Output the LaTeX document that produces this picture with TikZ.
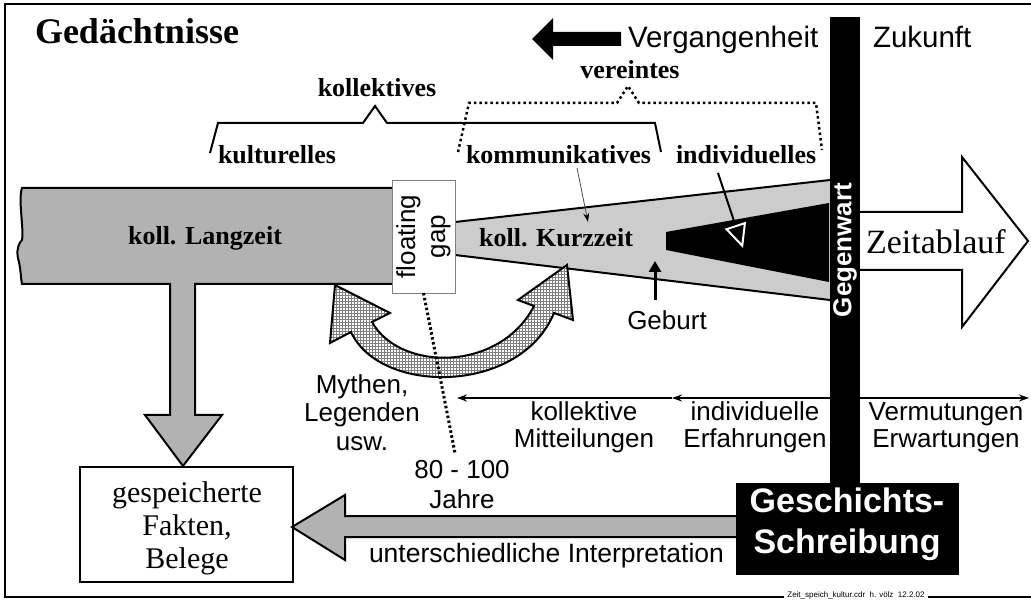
\documentclass[tikz,border=0pt]{standalone}
\usepackage{fontspec}
\setmainfont{Liberation Serif}
\setsansfont{Liberation Sans}
\usetikzlibrary{patterns,arrows.meta}
\definecolor{darkfill}{gray}{0.70}
\definecolor{lightfill}{gray}{0.80}

\begin{document}
\begin{tikzpicture}[x=1pt,y=-1pt,
  every node/.style={inner sep=0pt,outer sep=0pt},
  bserif/.style={font=\fontsize{26}{30}\selectfont\bfseries},
  rserif/.style={font=\fontsize{30}{33}\selectfont,align=center},
  sanslbl/.style={font=\sffamily\fontsize{26}{28}\selectfont,align=center},
  dots/.style={line width=2.5pt,dash pattern=on 2.5pt off 3pt},
]
\useasboundingbox (0,0) rectangle (1031,601);
\fill[white] (0,0) rectangle (1031,601);

% frame
\draw[line width=2pt] (1033,4) -- (5,4) -- (5,597) -- (1033,597);

% title
\node[anchor=base west,font=\fontsize{36}{40}\selectfont\bfseries] (title) at (35,44) {Gedächtnisse};

% direction of the past
\fill (532,39) -- (553,18) -- (553,32) -- (621,32) -- (621,46) -- (553,46) -- (553,60) -- cycle;
\node[anchor=base west,font=\sffamily\fontsize{29.5}{32}\selectfont] (verg) at (628,48) {Vergangenheit};
\node[anchor=base west,font=\sffamily\fontsize{29.5}{32}\selectfont] (zukunft) at (873,48) {Zukunft};

% brackets
\draw[line width=2pt] (210,153) -- (218,123) -- (363,123) -- (375,106) -- (387,123) -- (655,123) -- (661,152);
\draw[dots] (458,152) -- (469,103) -- (617,103) -- (628,86) -- (639,103) -- (816,103) -- (822,150);
\node[bserif,anchor=base] (kollektives) at (377,97) {kollektives};
\node[bserif,anchor=base] (vereintes) at (630,79) {vereintes};
\node[bserif,anchor=base west] (kulturelles) at (218,164) {kulturelles};
\node[bserif,anchor=base west] (kommunikatives) at (466,164) {kommunikatives};
\node[bserif,anchor=base west] (individuelles) at (676,164) {individuelles};

% long-term collective memory with its outlet downwards
\filldraw[fill=darkfill,line width=2pt,line join=miter] (392,188) -- (22,188)
  .. controls (18,200) and (24,228) .. (22,240)
  .. controls (16,246) and (17,256) .. (19,262)
  .. controls (21,272) and (21,280) .. (22,284)
  -- (170,284) -- (170,415) -- (145,415) -- (183,466) -- (222,415) -- (195,415) -- (195,284) -- (392,284);
\node[bserif,anchor=base] (langzeit) at (205,245) {koll. Langzeit};

% short-term collective memory and the individual wedge
\fill[lightfill] (455,222) -- (830,180) -- (830,300) -- (455,255) -- cycle;
\draw[line width=2pt] (455,222) -- (830,180);
\draw[line width=2pt] (455,255) -- (830,300);
\fill (666,232) -- (829,203) -- (829,282) -- (666,250) -- cycle;
\node[bserif,anchor=base] (kurzzeit) at (556,247) {koll. Kurzzeit};

% myths travelling both ways
\draw[line width=2pt,line join=miter,preaction={fill=white},preaction={pattern=grid,pattern color=gray}]
  (335,285) -- (390,313) -- (372,322)
  .. controls (400,372) and (500,372) .. (534,306)
  -- (518,300) -- (567,265) -- (573,320) -- (554,313)
  .. controls (520,395) and (380,395) .. (351,332)
  -- (330,343) -- cycle;

% floating gap
\node[draw=gray,line width=0.8pt,fill=white,minimum width=63pt,minimum height=113pt,anchor=north west] (gapbox) at (392,180) {};
\node[rotate=90,font=\sffamily\fontsize{26}{30}\selectfont,align=center] (gaptext) at (gapbox.center) {floating\\gap};

% time flow
\filldraw[fill=white,line width=2pt,line join=miter] (860,212) -- (962,212) -- (962,157) -- (1028,241) -- (962,327) -- (962,270) -- (860,270);
\node[anchor=base west,font=\fontsize{34}{38}\selectfont] (zeit) at (866,254) {Zeitablauf};

% pointers from the labels
\coordinate (kommtail) at (577,168);
\coordinate (kommhead) at (588,222);
\draw[gray!60!black,line width=0.8pt,-{Stealth[black,length=9pt,width=6pt]}] (kommtail) -- (kommhead);
\coordinate (indtail) at (718,173);
\coordinate (indhead) at (743,248);
\draw[line width=2pt,-{Triangle[open,white,line width=2pt,length=24pt,width=22pt]}] (indtail) -- (indhead);

% birth
\node[anchor=base,font=\sffamily\fontsize{26}{29}\selectfont] (geburt) at (667,330) {Geburt};
\coordinate (gebtail) at (655,300);
\coordinate (gebhead) at (655,261);
\draw[line width=3pt,-{Triangle[length=11pt,width=12pt]}] (gebtail) -- (gebhead);

% time line
\coordinate (now) at (845,398);
\coordinate (split) at (672,398);
\coordinate (past) at (457,398);
\coordinate (future) at (1029,398);
\draw[line width=1.5pt,-{Stealth[length=10pt,width=7pt]}] (now) -- (split);
\draw[line width=1.5pt,-{Stealth[length=10pt,width=7pt]}] (split) -- (past);
\draw[line width=1.5pt,-{Stealth[length=10pt,width=7pt]}] (now) -- (future);

\coordinate (gapfoot) at (455,453);
\draw[line width=3pt,dash pattern=on 2.5pt off 2.5pt] (gapbox.south) -- (gapfoot);

% the present
\fill (830,17) rectangle (860,485);
\node[rotate=90,text=white,font=\sffamily\bfseries\fontsize{26}{26}\selectfont] (gegenwart) at (845,250) {Gegenwart};

\node[sanslbl,anchor=base,font=\sffamily\fontsize{26}{28.5}\selectfont] (mythen) at (362,450) {Mythen,\\Legenden\\usw.};
\node[sanslbl,anchor=base,font=\sffamily\fontsize{26}{30}\selectfont] (jahre) at (462,508) {80 - 100\\Jahre};
\node[sanslbl,anchor=base] (mitteil) at (584,448) {kollektive\\Mitteilungen};
\node[sanslbl,anchor=base] (erfahr) at (755,448) {individuelle\\Erfahrungen};
\node[sanslbl,anchor=base] (vermut) at (946,448) {Vermutungen\\Erwartungen};

% historiography and the stored record
\filldraw[fill=darkfill,line width=2pt,line join=miter] (736,516) -- (345,516) -- (345,495) -- (292,527) -- (345,560) -- (345,537) -- (736,537);
\node[anchor=base west,font=\sffamily\fontsize{26.5}{29}\selectfont] (interp) at (369,562) {unterschiedliche Interpretation};

\node[fill=black,minimum width=223pt,minimum height=92pt,anchor=north west] (gsbox) at (736,483) {};
\node[anchor=base,text=white,font=\sffamily\bfseries\fontsize{34}{41}\selectfont,align=center] (gstext) at (847,553) {Geschichts-\\Schreibung};

\node[draw,line width=2pt,minimum width=213pt,minimum height=115pt,anchor=north west] (fakten) at (80,467) {};
\node[rserif,anchor=base] (faktentext) at (187,568) {gespeicherte\\Fakten,\\Belege};

% file note on the lower border
\node[fill=white,inner xsep=3pt,inner ysep=1pt,font=\sffamily\fontsize{8}{8}\selectfont] (credit) at (856,595) {Zeit\_speich\_kultur.cdr \ h. völz \ 12.2.02};
\end{tikzpicture}
\end{document}
